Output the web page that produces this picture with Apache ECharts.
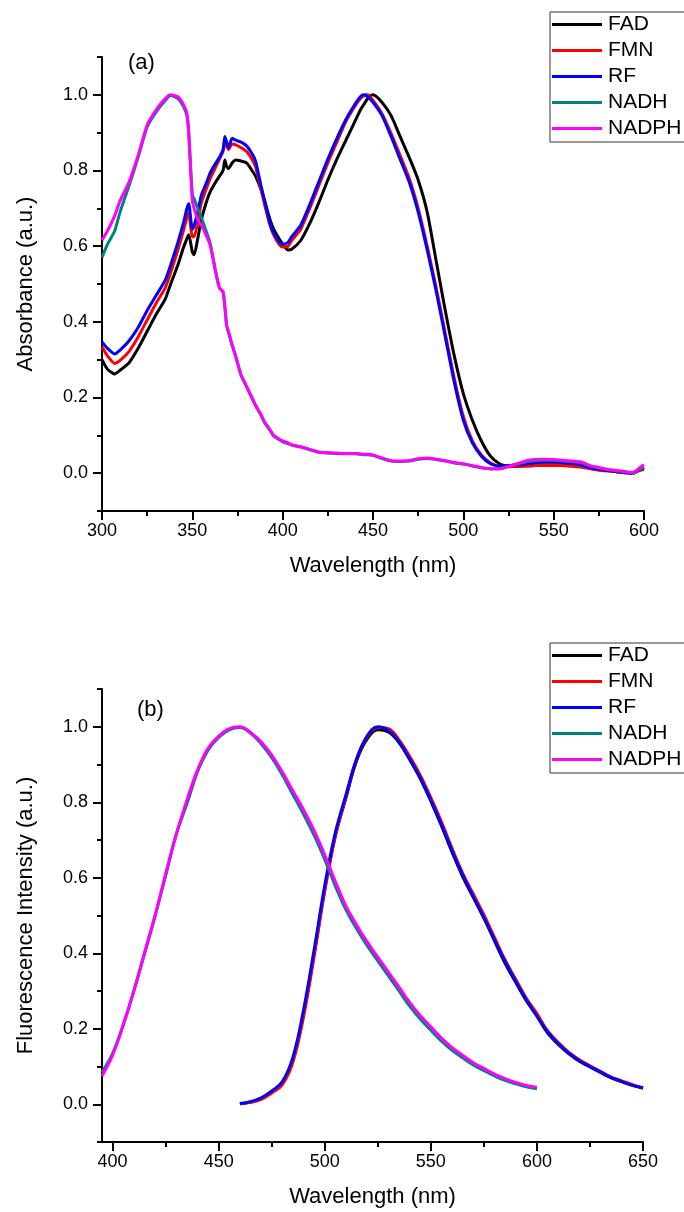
<!DOCTYPE html>
<html>
<head>
<meta charset="utf-8">
<script src="https://cdn.jsdelivr.net/npm/echarts@6/dist/echarts.min.js"></script>
<style>
html,body{margin:0;padding:0;background:#fff;}
#chart{width:684px;height:1212px;}
</style>
</head>
<body>
<div id="chart"></div>
<script>
// ---------- DATA ----------
const seriesNames = ['FAD', 'FMN', 'RF', 'NADH', 'NADPH'];

// (a) Absorbance
const wlAbs = [300,303,307,310,315,320,325,330,335,338,342,345,347,348,350,351,353,355,358,360,363,365,367,368,369,370,372,374,377,380,383,385,388,390,393,395,398,400,403,405,410,415,420,425,430,435,440,443,445,447,450,455,460,465,470,475,480,485,490,495,500,505,510,515,520,525,530,535,540,545,550,555,560,565,570,575,580,585,590,594,597,600];
const absFAD = [0.300,0.275,0.262,0.272,0.292,0.330,0.375,0.420,0.460,0.500,
 0.550,0.595,0.620,0.630,0.585,0.577,0.620,0.670,0.720,0.745,
 0.770,0.785,0.800,0.828,0.810,0.805,0.820,0.828,0.825,0.820,
 0.800,0.785,0.750,0.720,0.670,0.645,0.620,0.605,0.590,0.592,
 0.615,0.660,0.715,0.775,0.830,0.880,0.930,0.960,0.975,0.990,
 1.000,0.980,0.945,0.890,0.835,0.775,0.690,0.560,0.430,0.310,
 0.210,0.140,0.085,0.045,0.025,0.018,0.018,0.020,0.022,0.022,
 0.022,0.022,0.020,0.018,0.013,0.010,0.007,0.004,0.001,0.000,
 0.007,0.012];
const absFMN = [0.334,0.310,0.290,0.298,0.322,0.360,0.405,0.450,0.490,0.530,
 0.590,0.640,0.675,0.690,0.625,0.625,0.665,0.715,0.755,0.780,
 0.810,0.830,0.850,0.875,0.865,0.855,0.870,0.868,0.860,0.850,
 0.830,0.810,0.750,0.710,0.655,0.630,0.605,0.598,0.600,0.615,
 0.645,0.700,0.760,0.820,0.875,0.930,0.970,0.990,0.998,1.000,
 0.985,0.950,0.898,0.840,0.780,0.700,0.600,0.490,0.370,0.250,
 0.150,0.085,0.048,0.027,0.018,0.017,0.018,0.018,0.020,0.020,
 0.020,0.020,0.018,0.016,0.012,0.008,0.006,0.004,0.001,0.000,
 0.006,0.010];
const absRF = [0.347,0.330,0.315,0.325,0.350,0.385,0.430,0.470,0.510,0.550,
 0.610,0.660,0.700,0.712,0.645,0.655,0.690,0.735,0.770,0.795,
 0.820,0.835,0.855,0.890,0.875,0.860,0.885,0.880,0.875,0.865,
 0.845,0.825,0.760,0.720,0.660,0.635,0.612,0.605,0.610,0.625,
 0.655,0.710,0.770,0.830,0.885,0.935,0.975,0.995,1.000,0.995,
 0.980,0.945,0.890,0.830,0.770,0.690,0.590,0.480,0.360,0.240,
 0.140,0.080,0.045,0.025,0.018,0.020,0.022,0.025,0.028,0.030,
 0.030,0.028,0.026,0.022,0.015,0.010,0.007,0.004,0.002,0.000,
 0.008,0.015];
const absNADH = [0.570,0.605,0.640,0.690,0.760,0.835,0.915,0.955,0.985,0.998,
 0.990,0.970,0.945,0.900,0.735,0.725,0.700,0.675,0.635,0.605,
 0.530,0.490,0.478,0.440,0.390,0.372,0.338,0.308,0.258,0.228,
 0.198,0.178,0.153,0.133,0.113,0.098,0.089,0.083,0.078,0.074,
 0.069,0.062,0.055,0.053,0.052,0.051,0.051,0.050,0.049,0.049,
 0.047,0.039,0.032,0.031,0.032,0.037,0.039,0.036,0.032,0.027,
 0.024,0.019,0.014,0.011,0.012,0.018,0.024,0.030,0.033,0.034,
 0.034,0.032,0.030,0.028,0.019,0.014,0.009,0.006,0.003,0.000,
 0.008,0.015];
const absNADPH = [0.616,0.640,0.680,0.720,0.770,0.840,0.920,0.960,0.990,1.000,
 0.995,0.975,0.950,0.900,0.720,0.700,0.670,0.655,0.625,0.600,
 0.530,0.490,0.480,0.440,0.390,0.375,0.340,0.310,0.260,0.230,
 0.200,0.180,0.155,0.135,0.115,0.100,0.090,0.085,0.080,0.075,
 0.070,0.063,0.056,0.054,0.053,0.052,0.052,0.051,0.050,0.050,
 0.048,0.040,0.033,0.032,0.033,0.038,0.040,0.037,0.033,0.028,
 0.025,0.020,0.015,0.012,0.011,0.018,0.025,0.033,0.036,0.037,
 0.036,0.034,0.032,0.030,0.020,0.015,0.010,0.007,0.004,0.001,
 0.012,0.022];

// (b) Fluorescence
const wlEmNad = [395,400,405,410,415,420,425,430,435,440,445,450,455,460,465,470,475,480,485,490,495,500,505,510,515,520,525,530,535,540,545,550,555,560,565,570,575,580,585,590,595,600];
const emNADH = [0.085,0.135,0.210,0.300,0.398,0.498,0.605,0.715,0.795,0.880,0.938,0.972,0.992,0.998,0.983,0.955,0.918,0.872,0.820,0.768,0.712,0.648,0.578,0.515,0.465,0.420,0.380,0.340,0.300,0.260,0.226,0.196,0.167,0.143,0.123,0.104,0.089,0.075,0.063,0.054,0.046,0.041];
const emNADPH = [0.075,0.130,0.210,0.300,0.400,0.500,0.610,0.715,0.805,0.885,0.943,0.975,0.995,1.000,0.985,0.960,0.925,0.880,0.830,0.780,0.725,0.660,0.590,0.525,0.475,0.430,0.390,0.350,0.310,0.270,0.235,0.205,0.175,0.150,0.130,0.110,0.095,0.080,0.068,0.058,0.050,0.045];
const wlEmFl = [460,465,470,475,480,485,490,495,500,505,510,515,520,525,530,535,540,545,550,555,560,565,570,575,580,585,590,595,600,605,610,615,620,625,630,635,640,645,650];
const emFAD = [0.001,0.006,0.015,0.032,0.056,0.118,0.240,0.400,0.570,0.712,0.812,0.910,0.968,0.992,0.986,0.958,0.913,0.863,0.803,0.738,0.668,0.603,0.548,0.493,0.433,0.373,0.323,0.274,0.234,0.189,0.159,0.134,0.114,0.099,0.084,0.070,0.060,0.050,0.043];
const emFMN = [0.001,0.005,0.013,0.030,0.052,0.112,0.232,0.392,0.565,0.710,0.815,0.913,0.973,0.998,0.995,0.965,0.922,0.872,0.812,0.748,0.678,0.612,0.557,0.502,0.442,0.382,0.331,0.281,0.240,0.195,0.164,0.138,0.118,0.102,0.087,0.072,0.062,0.052,0.044];
const emRF = [0.002,0.007,0.017,0.035,0.060,0.125,0.250,0.410,0.580,0.720,0.820,0.915,0.976,1.000,0.990,0.960,0.915,0.865,0.805,0.740,0.672,0.607,0.550,0.495,0.435,0.378,0.325,0.277,0.233,0.192,0.160,0.135,0.115,0.100,0.085,0.071,0.060,0.050,0.043];

// tick values
const yMajor = [0.0, 0.2, 0.4, 0.6, 0.8, 1.0];
const yMinor = [-0.1, 0.1, 0.3, 0.5, 0.7, 0.9, 1.1];
const xMajorB = [400, 450, 500, 550, 600, 650];
const xMinorB = [425, 475, 525, 575, 625];

// ---------- STYLE ----------
const colors = {FAD:'#000000', FMN:'#ff0000', RF:'#0000ff', NADH:'#008080', NADPH:'#ff00ff'};
const FONT = "'Liberation Sans', Arial, sans-serif";
const axisLineStyle = {color:'#000', width:2};

function pairs(wl, v){ return wl.map((w,i)=>[w, v[i]]); }

const chart = echarts.init(document.getElementById('chart'), null, {renderer:'canvas'});

function mkSeries(name, wl, vals, xi, yi, smooth){
  return {
    name, type:'line', xAxisIndex:xi, yAxisIndex:yi, data:pairs(wl, vals),
    symbol:'none', smooth:smooth, animation:false,
    lineStyle:{color:colors[name], width:3},
    itemStyle:{color:colors[name]},
    z: 2
  };
}

const yMain = (grid, name) => ({
  type:'value', gridIndex:grid, min:-0.1, max:1.1, position:'left',
  name, nameLocation:'middle', nameGap:65, nameRotate:90,
  nameTextStyle:{fontSize:22, fontFamily:FONT, color:'#000'},
  axisLine:{show:true, lineStyle:axisLineStyle},
  axisTick:{show:true, length:9, lineStyle:{color:'#000', width:2}, customValues:yMajor},
  axisLabel:{fontSize:18, fontFamily:FONT, color:'#000', margin:14, customValues:yMajor,
    formatter:v=>Number(v).toFixed(1)},
  splitLine:{show:false}
});
const yMinorAx = (grid) => ({
  type:'value', gridIndex:grid, min:-0.1, max:1.1, position:'left', offset:0,
  axisLine:{show:false},
  axisTick:{show:true, length:5, lineStyle:{color:'#000', width:2}, customValues:yMinor},
  axisLabel:{show:false},
  splitLine:{show:false}
});

const legendBase = {
  data:seriesNames, orient:'vertical', left:550, padding:[2,14,3,2],
  itemWidth:50, itemHeight:3, itemGap:5, icon:'rect',
  borderColor:'#333', borderWidth:1, backgroundColor:'#fff',
  textStyle:{fontSize:21, fontFamily:FONT, color:'#000', lineHeight:21, padding:[0,0,0,1]},
  selectedMode:false
};

const option = {
  animation:false,
  backgroundColor:'#fff',
  textStyle:{fontFamily:FONT},
  grid:[
    {left:102, right:40, top:57, height:454, containLabel:false},
    {left:102, right:41, top:689, height:453, containLabel:false}
  ],
  xAxis:[
    {type:'value', gridIndex:0, min:300, max:600, interval:50,
     name:'Wavelength (nm)', nameLocation:'middle', nameGap:44,
     nameTextStyle:{fontSize:22, fontFamily:FONT, color:'#000'},
     axisLine:{show:true, onZero:false, lineStyle:axisLineStyle},
     axisTick:{show:true, length:9, lineStyle:{color:'#000', width:2}},
     minorTick:{show:true, splitNumber:2, length:5, lineStyle:{color:'#000', width:2}},
     axisLabel:{fontSize:18, fontFamily:FONT, color:'#000', margin:11},
     splitLine:{show:false}},
    {type:'value', gridIndex:1, min:395, max:650,
     name:'Wavelength (nm)', nameLocation:'middle', nameGap:44,
     nameTextStyle:{fontSize:22, fontFamily:FONT, color:'#000'},
     axisLine:{show:true, onZero:false, lineStyle:axisLineStyle},
     axisTick:{show:true, length:9, lineStyle:{color:'#000', width:2}, customValues:xMajorB},
     axisLabel:{fontSize:18, fontFamily:FONT, color:'#000', margin:11, customValues:xMajorB},
     splitLine:{show:false}},
    {type:'value', gridIndex:1, min:395, max:650, position:'bottom', offset:0,
     axisLine:{show:false, onZero:false},
     axisTick:{show:true, length:5, lineStyle:{color:'#000', width:2}, customValues:xMinorB},
     axisLabel:{show:false},
     splitLine:{show:false}}
  ],
  yAxis:[
    yMain(0, 'Absorbance (a.u.)'),
    yMinorAx(0),
    yMain(1, 'Fluorescence Intensity (a.u.)'),
    yMinorAx(1)
  ],
  legend:[
    Object.assign({}, legendBase, {top:12}),
    Object.assign({}, legendBase, {top:643})
  ],
  graphic:[
    {type:'text', left:128, top:52, style:{text:'(a)', font:"22px 'Liberation Sans', Arial, sans-serif", fill:'#000'}},
    {type:'text', left:137, top:699, style:{text:'(b)', font:"22px 'Liberation Sans', Arial, sans-serif", fill:'#000'}}
  ],
  series:[
    mkSeries('FAD', wlAbs, absFAD, 0, 0, 0.2),
    mkSeries('FMN', wlAbs, absFMN, 0, 0, 0.2),
    mkSeries('RF', wlAbs, absRF, 0, 0, 0.2),
    mkSeries('NADH', wlAbs, absNADH, 0, 0, 0.2),
    mkSeries('NADPH', wlAbs, absNADPH, 0, 0, 0.2),
    mkSeries('FAD', wlEmFl, emFAD, 1, 2, 0.4),
    mkSeries('FMN', wlEmFl, emFMN, 1, 2, 0.4),
    mkSeries('RF', wlEmFl, emRF, 1, 2, 0.4),
    mkSeries('NADH', wlEmNad, emNADH, 1, 2, 0.4),
    mkSeries('NADPH', wlEmNad, emNADPH, 1, 2, 0.4)
  ]
};
chart.setOption(option);
</script>
</body>
</html>
